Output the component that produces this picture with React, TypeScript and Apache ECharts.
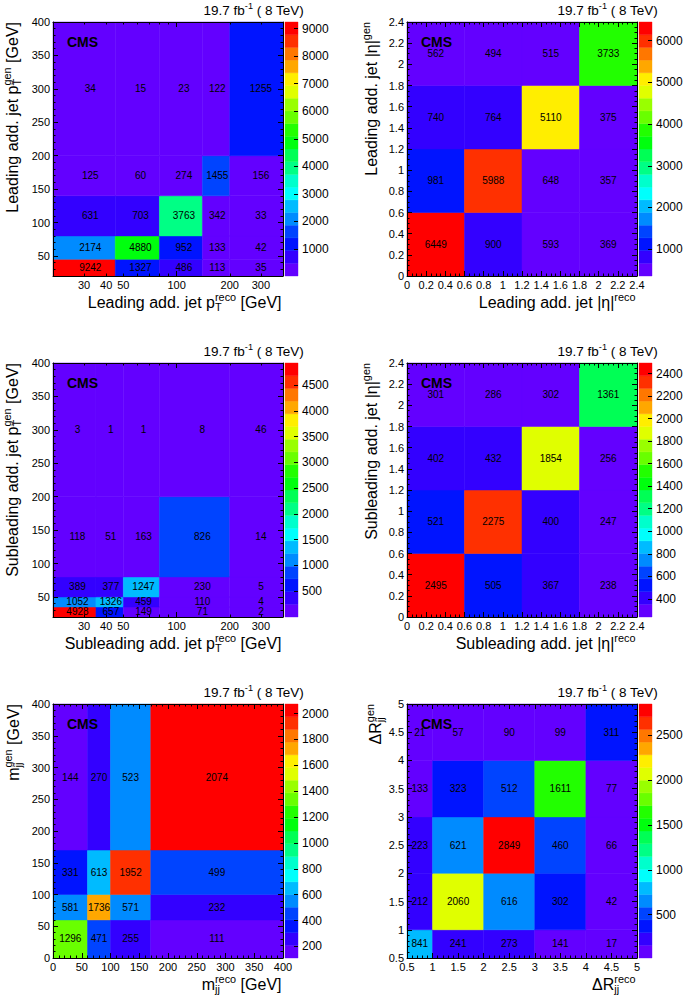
import React, { useEffect, useRef } from 'react';
import * as echarts from 'echarts';

const FONT = '"Liberation Sans", Arial, Helvetica, sans-serif';

// ---------------- data ----------------
// bin edges (reco on x, gen on y share the same binning)
const ptLeadEdges = [20, 45, 80, 140, 200, 400];
const ptSubEdges = [20, 35, 50, 80, 200, 400];
const etaEdges = [0, 0.6, 1.2, 1.8, 2.4];
const mjjEdges = [0, 60, 100, 170, 400];
const drEdges = [0.5, 1, 2, 3, 4, 5];

// counts: rows = gen bins (bottom to top), columns = reco bins (left to right)
const ptLeadCounts = [
  [9242, 1327, 486, 113, 35],
  [2174, 4880, 952, 133, 42],
  [631, 703, 3763, 342, 33],
  [125, 60, 274, 1455, 156],
  [34, 15, 23, 122, 1255],
];
const etaLeadCounts = [
  [6449, 900, 593, 369],
  [981, 5988, 648, 357],
  [740, 764, 5110, 375],
  [562, 494, 515, 3733],
];
const ptSubCounts = [
  [4928, 657, 149, 71, 2],
  [1052, 1326, 459, 110, 4],
  [389, 377, 1247, 230, 5],
  [118, 51, 163, 826, 14],
  [3, 1, 1, 8, 46],
];
const etaSubCounts = [
  [2495, 505, 367, 238],
  [521, 2275, 400, 247],
  [402, 432, 1854, 256],
  [301, 286, 302, 1361],
];
const mjjCounts = [
  [1296, 471, 255, 111],
  [581, 1736, 571, 232],
  [331, 613, 1952, 499],
  [144, 270, 523, 2074],
];
const drCounts = [
  [841, 241, 273, 141, 17],
  [212, 2060, 616, 302, 42],
  [223, 621, 2849, 460, 66],
  [133, 323, 512, 1611, 77],
  [21, 57, 90, 99, 311],
];

// tick labels
const ptXLabels = [30, 40, 50, 100, 200, 300];
const ptXMajor = [100];
const ptXMinor = [20, 30, 40, 50, 60, 70, 80, 90, 200, 300, 400];
const ptYLabels = [50, 100, 150, 200, 250, 300, 350, 400];
const etaLabels = [0, 0.2, 0.4, 0.6, 0.8, 1, 1.2, 1.4, 1.6, 1.8, 2, 2.2, 2.4];
const mjjLabels = [0, 50, 100, 150, 200, 250, 300, 350, 400];
const drLabels = [0.5, 1, 1.5, 2, 2.5, 3, 3.5, 4, 4.5, 5];
const zLabelsPtLead = [1000, 2000, 3000, 4000, 5000, 6000, 7000, 8000, 9000];
const zLabelsEtaLead = [1000, 2000, 3000, 4000, 5000, 6000];
const zLabelsPtSub = [500, 1000, 1500, 2000, 2500, 3000, 3500, 4000, 4500];
const zLabelsEtaSub = [400, 600, 800, 1000, 1200, 1400, 1600, 1800, 2000, 2200, 2400];
const zLabelsMjj = [200, 400, 600, 800, 1000, 1200, 1400, 1600, 1800, 2000];
const zLabelsDr = [500, 1000, 1500, 2000, 2500];

// ---------------- helpers ----------------
function steps(a: number, b: number, s: number, exclude: number[]): number[] {
  const out: number[] = [];
  const n = Math.round((b - a) / s);
  for (let i = 0; i <= n; i++) {
    const v = +(a + i * s).toFixed(6);
    if (!exclude.some((e) => Math.abs(e - v) < 1e-6)) out.push(v);
  }
  return out;
}

function hlsColor(h: number): string {
  const f = (hh: number) => {
    let x = hh;
    if (x > 360) x -= 360;
    if (x < 0) x += 360;
    if (x < 60) return x / 60;
    if (x < 180) return 1;
    if (x < 240) return (240 - x) / 60;
    return 0;
  };
  const r = f(h + 120), g = f(h), b = f(h - 120);
  return `rgb(${Math.round(r * 255)},${Math.round(g * 255)},${Math.round(b * 255)})`;
}
const PALETTE: string[] = [];
for (let i = 0; i < 50; i++) PALETTE.push(hlsColor(280 - (i + 1) * 5.6));
const NCONT = 20;
const levelColor = (k: number) => PALETTE[Math.min(49, Math.floor(((k + 0.99) * 50) / NCONT))];
function zColor(v: number, zmin: number, zmax: number) {
  let k = Math.floor(0.01 + ((v - zmin) * NCONT) / (zmax - zmin));
  k = Math.max(0, Math.min(NCONT - 1, k));
  return levelColor(k);
}

let measureCtx: CanvasRenderingContext2D | null = null;
function textWidth(t: string, size: number, weight = 'normal') {
  if (!measureCtx) measureCtx = document.createElement('canvas').getContext('2d');
  measureCtx!.font = `${weight} ${size}px ${FONT}`;
  return measureCtx!.measureText(t).width;
}

type Seg = { n?: string; sub?: string; sup?: string };
function richTitle(segs: Seg[], F: number, x: number, y: number, rot: number) {
  const small = F * 0.68;
  const items: { text: string; size: number; dx: number; dy: number }[] = [];
  let cx = 0;
  for (const s of segs) {
    if (s.n !== undefined) {
      items.push({ text: s.n, size: F, dx: cx, dy: 0 });
      cx += textWidth(s.n, F);
    } else {
      let w = 0;
      if (s.sub) {
        items.push({ text: s.sub, size: small, dx: cx, dy: 0.34 * F });
        w = Math.max(w, textWidth(s.sub, small));
      }
      if (s.sup) {
        items.push({ text: s.sup, size: small, dx: cx, dy: -0.33 * F });
        w = Math.max(w, textWidth(s.sup, small));
      }
      cx += w;
    }
  }
  const W = cx;
  return {
    type: 'group',
    x,
    y,
    rotation: rot,
    z: 100,
    children: items.map((it) => ({
      type: 'text',
      x: it.dx - W,
      y: it.dy,
      z: 100,
      style: {
        text: it.text,
        font: `${it.size}px ${FONT}`,
        fill: '#000',
        textAlign: 'left',
        textVerticalAlign: 'middle',
        align: 'left',
        verticalAlign: 'middle',
      },
    })),
  };
}

type AxisSpec = { min: number; max: number; log?: boolean; labels: number[]; major: number[]; minor: number[] };
type Panel = {
  xEdges: number[];
  yEdges: number[];
  counts: number[][];
  zLabels: number[];
  x: AxisSpec;
  y: AxisSpec;
  xTitle: Seg[];
  yTitle: Seg[];
  col: number;
  row: number;
  yTitleX: number;
};

const PANELS: Panel[] = [
  {
    xEdges: ptLeadEdges, yEdges: ptLeadEdges, counts: ptLeadCounts, zLabels: zLabelsPtLead,
    x: { min: 20, max: 400, log: true, labels: ptXLabels, major: ptXMajor, minor: ptXMinor },
    y: { min: 20, max: 400, labels: ptYLabels, major: ptYLabels, minor: steps(20, 400, 10, ptYLabels) },
    xTitle: [{ n: 'Leading add. jet p' }, { sub: 'T', sup: 'reco' }, { n: ' [GeV]' }],
    yTitle: [{ n: 'Leading add. jet p' }, { sub: 'T', sup: 'gen' }, { n: ' [GeV]' }],
    col: 0, row: 0, yTitleX: 12,
  },
  {
    xEdges: etaEdges, yEdges: etaEdges, counts: etaLeadCounts, zLabels: zLabelsEtaLead,
    x: { min: 0, max: 2.4, labels: etaLabels, major: etaLabels, minor: steps(0, 2.4, 0.05, etaLabels) },
    y: { min: 0, max: 2.4, labels: etaLabels, major: etaLabels, minor: steps(0, 2.4, 0.05, etaLabels) },
    xTitle: [{ n: 'Leading add. jet |η|' }, { sup: 'reco' }],
    yTitle: [{ n: 'Leading add. jet |η|' }, { sup: 'gen' }],
    col: 1, row: 0, yTitleX: 371,
  },
  {
    xEdges: ptSubEdges, yEdges: ptSubEdges, counts: ptSubCounts, zLabels: zLabelsPtSub,
    x: { min: 20, max: 400, log: true, labels: ptXLabels, major: ptXMajor, minor: ptXMinor },
    y: { min: 20, max: 400, labels: ptYLabels, major: ptYLabels, minor: steps(20, 400, 10, ptYLabels) },
    xTitle: [{ n: 'Subleading add. jet p' }, { sub: 'T', sup: 'reco' }, { n: ' [GeV]' }],
    yTitle: [{ n: 'Subleading add. jet p' }, { sub: 'T', sup: 'gen' }, { n: ' [GeV]' }],
    col: 0, row: 1, yTitleX: 12,
  },
  {
    xEdges: etaEdges, yEdges: etaEdges, counts: etaSubCounts, zLabels: zLabelsEtaSub,
    x: { min: 0, max: 2.4, labels: etaLabels, major: etaLabels, minor: steps(0, 2.4, 0.05, etaLabels) },
    y: { min: 0, max: 2.4, labels: etaLabels, major: etaLabels, minor: steps(0, 2.4, 0.05, etaLabels) },
    xTitle: [{ n: 'Subleading add. jet |η|' }, { sup: 'reco' }],
    yTitle: [{ n: 'Subleading add. jet |η|' }, { sup: 'gen' }],
    col: 1, row: 1, yTitleX: 371,
  },
  {
    xEdges: mjjEdges, yEdges: mjjEdges, counts: mjjCounts, zLabels: zLabelsMjj,
    x: { min: 0, max: 400, labels: mjjLabels, major: mjjLabels, minor: steps(0, 400, 10, mjjLabels) },
    y: { min: 0, max: 400, labels: mjjLabels, major: mjjLabels, minor: steps(0, 400, 10, mjjLabels) },
    xTitle: [{ n: 'm' }, { sub: 'jj', sup: 'reco' }, { n: ' [GeV]' }],
    yTitle: [{ n: 'm' }, { sub: 'jj', sup: 'gen' }, { n: ' [GeV]' }],
    col: 0, row: 2, yTitleX: 13,
  },
  {
    xEdges: drEdges, yEdges: drEdges, counts: drCounts, zLabels: zLabelsDr,
    x: { min: 0.5, max: 5, labels: drLabels, major: drLabels, minor: steps(0.5, 5, 0.1, drLabels) },
    y: { min: 0.5, max: 5, labels: drLabels, major: drLabels, minor: steps(0.5, 5, 0.1, drLabels) },
    xTitle: [{ n: 'ΔR' }, { sub: 'jj', sup: 'reco' }],
    yTitle: [{ n: 'ΔR' }, { sub: 'jj', sup: 'gen' }],
    col: 1, row: 2, yTitleX: 375,
  },
];

// layout
const PLOT_W = 230;
const PLOT_H = 254;
const COL_LEFT = [53, 407];
const ROW_TOP = [22, 363, 704];
const CB_GAP = 2;
const CB_W = 13;

const lumiSegs: Seg[] = [{ n: '19.7 fb' }, { sup: '-1' }, { n: ' ( 8 TeV)' }];

function fmtNum(v: number) {
  return String(parseFloat(Number(v).toFixed(4)));
}

function axisSet(dim: 'x' | 'y', gridIndex: number, spec: AxisSpec) {
  const T = (v: number) => (spec.log ? Math.log10(v) : v);
  const lineStyle = { color: '#000', width: 1 };
  const base = {
    type: 'value',
    gridIndex,
    min: T(spec.min),
    max: T(spec.max),
    splitLine: { show: false },
    z: 10,
  };
  const p1 = dim === 'x' ? 'bottom' : 'left';
  const p2 = dim === 'x' ? 'top' : 'right';
  const fmt = (v: number) => (spec.log ? String(Math.round(Math.pow(10, v))) : fmtNum(v));
  const tickAxis = (pos: string, vals: number[], len: number, line: boolean) => ({
    ...base,
    position: pos,
    axisLine: { show: line, onZero: false, lineStyle },
    axisTick: { show: true, inside: true, length: len, lineStyle, customValues: vals.map(T) },
    axisLabel: { show: false },
  });
  return [
    {
      ...base,
      position: p1,
      axisLine: { show: true, onZero: false, lineStyle },
      axisTick: { show: true, inside: true, length: 5, lineStyle, customValues: spec.major.map(T) },
      axisLabel: {
        show: true,
        customValues: spec.labels.map(T),
        formatter: fmt,
        color: '#000',
        fontFamily: FONT,
        fontSize: 11,
        margin: 3,
      },
    },
    tickAxis(p1, spec.minor, 2.5, false),
    tickAxis(p2, spec.major, 5, true),
    tickAxis(p2, spec.minor, 2.5, false),
  ];
}

function buildOption() {
  const grid: any[] = [];
  const xAxis: any[] = [];
  const yAxis: any[] = [];
  const series: any[] = [];
  const graphics: any[] = [];

  PANELS.forEach((p) => {
    const left = COL_LEFT[p.col];
    const top = ROW_TOP[p.row];
    const gMain = grid.length;
    grid.push({ left, top, width: PLOT_W, height: PLOT_H, containLabel: false, outerBoundsMode: 'none' });
    const gCb = grid.length;
    grid.push({ left: left + PLOT_W + CB_GAP, top, width: CB_W, height: PLOT_H, containLabel: false, outerBoundsMode: 'none' });

    const xBase = xAxis.length;
    xAxis.push(...axisSet('x', gMain, p.x));
    const yBase = yAxis.length;
    yAxis.push(...axisSet('y', gMain, p.y));

    const all = p.counts.flat();
    const zmin = Math.min(...all);
    const zmax = Math.max(...all);

    xAxis.push({ type: 'value', gridIndex: gCb, min: 0, max: 1, show: false });
    yAxis.push({
      type: 'value',
      gridIndex: gCb,
      min: zmin,
      max: zmax,
      position: 'right',
      z: 10,
      splitLine: { show: false },
      axisLine: { show: false, onZero: false },
      axisTick: { show: true, inside: true, length: 4, lineStyle: { color: '#000', width: 1 }, customValues: p.zLabels },
      axisLabel: {
        show: true,
        customValues: p.zLabels,
        formatter: (v: number) => String(Math.round(v)),
        color: '#000',
        fontFamily: FONT,
        fontSize: 12,
        margin: 4,
      },
    });

    const T = (v: number) => (p.x.log ? Math.log10(v) : v);
    const cells: number[][] = [];
    p.counts.forEach((row, j) =>
      row.forEach((v, i) => {
        const x0 = p.xEdges[i], x1 = p.xEdges[i + 1];
        const y0 = p.yEdges[j], y1 = p.yEdges[j + 1];
        cells.push([T(x0), T(x1), y0, y1, T((x0 + x1) / 2), (y0 + y1) / 2, v]);
      })
    );

    series.push({
      type: 'custom',
      coordinateSystem: 'cartesian2d',
      xAxisIndex: xBase,
      yAxisIndex: yBase,
      silent: true,
      clip: false,
      data: cells,
      renderItem: (_params: any, api: any) => {
        const a = api.coord([api.value(0), api.value(2)]);
        const b = api.coord([api.value(1), api.value(3)]);
        const c = api.coord([api.value(4), api.value(5)]);
        const v = api.value(6);
        const col = zColor(v, zmin, zmax);
        return {
          type: 'group',
          children: [
            {
              type: 'rect',
              z2: 0,
              shape: { x: a[0], y: b[1], width: b[0] - a[0], height: a[1] - b[1] },
              style: { fill: col, stroke: col, lineWidth: 0.5 },
            },
            {
              type: 'text',
              z2: 10,
              x: c[0],
              y: c[1],
              style: {
                text: String(v),
                fill: '#000',
                font: `10px ${FONT}`,
                textAlign: 'center',
                textVerticalAlign: 'middle',
                align: 'center',
                verticalAlign: 'middle',
              },
            },
          ],
        };
      },
    });

    const bands: number[][] = [];
    for (let k = 0; k < NCONT; k++) {
      bands.push([k, zmin + (k * (zmax - zmin)) / NCONT, zmin + ((k + 1) * (zmax - zmin)) / NCONT]);
    }
    series.push({
      type: 'custom',
      coordinateSystem: 'cartesian2d',
      xAxisIndex: xBase + 4,
      yAxisIndex: yBase + 4,
      silent: true,
      clip: false,
      data: bands,
      renderItem: (_params: any, api: any) => {
        const a = api.coord([0, api.value(1)]);
        const b = api.coord([1, api.value(2)]);
        const col = levelColor(api.value(0));
        return {
          type: 'rect',
          shape: { x: a[0], y: b[1], width: b[0] - a[0], height: a[1] - b[1] },
          style: { fill: col, stroke: col, lineWidth: 0.4 },
        };
      },
    });

    // texts
    graphics.push(richTitle(lumiSegs, 13.5, left + 251, top - 12, 0));
    graphics.push({
      type: 'text',
      x: left + 14,
      y: top + 20,
      z: 100,
      style: {
        text: 'CMS',
        font: `bold 14px ${FONT}`,
        fill: '#000',
        textAlign: 'left',
        textVerticalAlign: 'middle',
        align: 'left',
        verticalAlign: 'middle',
      },
    });
    graphics.push(richTitle(p.xTitle, 16, left + 228.5, top + PLOT_H + 26, 0));
    graphics.push(richTitle(p.yTitle, 16, p.yTitleX, top, Math.PI / 2));
  });

  return {
    animation: false,
    backgroundColor: '#fff',
    grid,
    xAxis,
    yAxis,
    series,
    graphic: { elements: graphics },
  };
}

export default function App() {
  const ref = useRef<HTMLDivElement>(null);
  useEffect(() => {
    const chart = echarts.init(ref.current!, null, { renderer: 'svg' });
    chart.setOption(buildOption() as any);
    return () => chart.dispose();
  }, []);
  return <div ref={ref} style={{ position: 'absolute', left: 0, top: 0, width: 685, height: 996 }} />;
}
